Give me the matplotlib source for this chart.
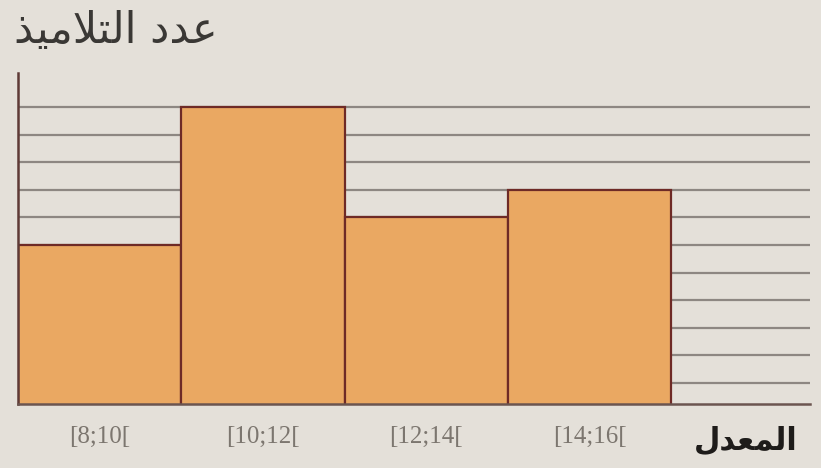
import matplotlib
matplotlib.use('Agg')
import matplotlib.pyplot as plt

# class intervals (left edges), width and number of pupils
edges = [8, 10, 12, 14]
width = 2
counts = [6, 11, 7, 8]
labels = ['[8;10[', '[10;12[', '[12;14[', '[14;16[']
grid_levels = list(range(1, 12))

title_txt = 'عدد التلاميذ'
xlab_txt = 'المعدل'

# minimal arabic shaping (matplotlib has no bidi / joining)
FORMS = {
    'ا': ('\ufe8d', '\ufe8e', None, None),
    'د': ('\ufea9', '\ufeaa', None, None),
    'ذ': ('\ufeab', '\ufeac', None, None),
    'ع': ('\ufec9', '\ufeca', '\ufecb', '\ufecc'),
    'ل': ('\ufedd', '\ufede', '\ufedf', '\ufee0'),
    'ت': ('\ufe95', '\ufe96', '\ufe97', '\ufe98'),
    'م': ('\ufee1', '\ufee2', '\ufee3', '\ufee4'),
    'ي': ('\ufef1', '\ufef2', '\ufef3', '\ufef4'),
    'لا': ('\ufefb', '\ufefc', None, None),
}

def shape(txt):
    toks = []
    i = 0
    while i < len(txt):
        if txt[i] == 'ل' and i + 1 < len(txt) and txt[i+1] == 'ا':
            toks.append('لا')
            i += 2
        else:
            toks.append(txt[i])
            i += 1
    out = []
    for k, t in enumerate(toks):
        if t not in FORMS:
            out.append(t)
            continue
        f = FORMS[t]
        prev = toks[k-1] if k > 0 else None
        nxt = toks[k+1] if k + 1 < len(toks) else None
        jr = prev in FORMS and FORMS[prev][2] is not None
        jl = f[2] is not None and nxt in FORMS
        if jr and jl:
            c = f[3]
        elif jr:
            c = f[1]
        elif jl:
            c = f[2]
        else:
            c = f[0]
        out.append(c)
    return ''.join(reversed(out))

bg = '#e4e0d9'
fig = plt.figure(figsize=(8.21, 4.68), dpi=100, facecolor=bg)
ax = fig.add_axes([18/821, 64/468, 792/821, 331/468])
ax.set_facecolor(bg)

for g in grid_levels:
    ax.axhline(g, color='#8d8782', lw=1.6, zorder=1)

ax.bar(edges, counts, width=width, align='edge', color='#eaa862',
       edgecolor='#6e2a26', linewidth=1.6, zorder=2)

ax.set_xlim(8, 17.7)
ax.set_ylim(0.24, 12.23)
for s in ['top', 'right']:
    ax.spines[s].set_visible(False)
ax.spines['left'].set_color('#5e3a36')
ax.spines['left'].set_linewidth(1.8)
ax.spines['bottom'].set_color('#6b5550')
ax.spines['bottom'].set_linewidth(1.8)

ax.set_yticks([])
ax.set_xticks([e + width/2 for e in edges])
ax.set_xticklabels(labels, fontsize=18, color='#7c766f', family='Liberation Serif')
ax.tick_params(axis='x', length=0, pad=16)

fig.text(14/821, 1 - 31/468, shape(title_txt), fontsize=31, color='#3a3835',
         family='DejaVu Sans', ha='left', va='center')
fig.text(798/821, 1 - 441/468, shape(xlab_txt), fontsize=22, color='#1e1c1a',
         family='DejaVu Sans', fontweight='bold', ha='right', va='center')

fig.savefig('out.png', dpi=100, facecolor=bg)
